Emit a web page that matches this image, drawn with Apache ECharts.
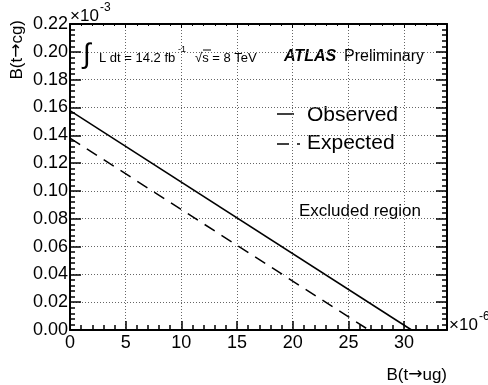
<!DOCTYPE html>
<html>
<head>
<meta charset="utf-8">
<script src="https://cdn.jsdelivr.net/npm/echarts@6/dist/echarts.min.js"></script>
<style>html,body{margin:0;padding:0;background:#fff}#c{width:488px;height:385px}</style>
</head>
<body>
<div id="c"></div>
<script>
// Data (x in units of 1e-6, y in units of 1e-3)
const observedX = [0, 30.67];
const observedY = [0.1577, 0];
const expectedX = [0, 26.84];
const expectedY = [0.138, 0];
const xTicks = [0, 5, 10, 15, 20, 25, 30];
const yTicks = [0.00, 0.02, 0.04, 0.06, 0.08, 0.10, 0.12, 0.14, 0.16, 0.18, 0.20, 0.22];
const xMax = 33.85;
const yMax = 0.22;

const FONT = "'Liberation Sans', Arial, Helvetica, sans-serif";
const chart = echarts.init(document.getElementById('c'), null, {renderer: 'canvas'});

function pairs(xs, ys) { return xs.map((x, i) => [x, ys[i]]); }

const gridLine = {show: true, lineStyle: {color: '#666', width: 1, type: [1, 2]}};
const richTitle = {
  a: {fontSize: 17, fontFamily: FONT, fill: '#000', color: '#000'},
  arr: {fontSize: 17, fontFamily: "'DejaVu Sans', sans-serif", color: '#000'}
};
const option = {
  animation: false,
  backgroundColor: '#fff',
  grid: {left: 70, right: 41, top: 24, bottom: 55, containLabel: false},
  xAxis: [{
    type: 'value', min: 0, max: xMax, interval: 5, position: 'bottom',
    axisLine: {show: true, onZero: false, lineStyle: {color: '#000', width: 2}},
    axisTick: {show: true, inside: true, length: 9, lineStyle: {color: '#000', width: 1.5}},
    minorTick: {show: true, splitNumber: 5, length: 5, lineStyle: {color: '#000', width: 1.5}},
    axisLabel: {show: true, margin: 4, fontSize: 18, color: '#000', fontFamily: FONT,
      showMaxLabel: false,
      formatter: v => xTicks.indexOf(Math.round(v * 1000) / 1000) >= 0 ? String(Math.round(v)) : ''},
    splitLine: gridLine
  }, {
    type: 'value', min: 0, max: xMax, interval: 5, position: 'top',
    axisLine: {show: true, onZero: false, lineStyle: {color: '#000', width: 2}},
    axisTick: {show: true, inside: true, length: 4, lineStyle: {color: '#000', width: 1}},
    minorTick: {show: true, splitNumber: 5, length: 2, lineStyle: {color: '#000', width: 1}},
    axisLabel: {show: false}, splitLine: {show: false}
  }],
  yAxis: [{
    type: 'value', min: 0, max: yMax, interval: 0.02, position: 'left',
    axisLine: {show: true, onZero: false, lineStyle: {color: '#000', width: 2}},
    axisTick: {show: true, inside: true, length: 11, lineStyle: {color: '#000', width: 1.5}},
    minorTick: {show: true, splitNumber: 5, length: 5, lineStyle: {color: '#000', width: 1.5}},
    axisLabel: {show: true, margin: 2, fontSize: 18, color: '#000', fontFamily: FONT,
      formatter: v => v.toFixed(2)},
    splitLine: gridLine
  }, {
    type: 'value', min: 0, max: yMax, interval: 0.02, position: 'right',
    axisLine: {show: true, onZero: false, lineStyle: {color: '#000', width: 2}},
    axisTick: {show: true, inside: true, length: 11, lineStyle: {color: '#000', width: 1.5}},
    minorTick: {show: true, splitNumber: 5, length: 5, lineStyle: {color: '#000', width: 1.5}},
    axisLabel: {show: false}, splitLine: {show: false}
  }],
  series: [{
    name: 'Observed', type: 'line', data: pairs(observedX, observedY),
    showSymbol: false, symbol: 'none', lineStyle: {color: '#000', width: 1.5, type: 'solid'}, z: 5
  }, {
    name: 'Expected', type: 'line', data: pairs(expectedX, expectedY),
    showSymbol: false, symbol: 'none', lineStyle: {color: '#000', width: 1.5, type: [12, 8]}, z: 5
  }],
  graphic: [
    {type: 'text', x: 70, y: 16, style: {text: '×10', font: '17px ' + FONT, fill: '#000', verticalAlign: 'middle', align: 'left'}},
    {type: 'text', x: 100, y: 8, style: {text: '-3', font: '12px ' + FONT, fill: '#000', verticalAlign: 'middle', align: 'left'}},
    {type: 'text', x: 449, y: 325, style: {text: '×10', font: '17px ' + FONT, fill: '#000', verticalAlign: 'middle', align: 'left'}},
    {type: 'text', x: 479, y: 317, style: {text: '-6', font: '12px ' + FONT, fill: '#000', verticalAlign: 'middle', align: 'left'}},
    {type: 'text', x: 447, y: 375, style: {text: '{a|B(t}{arr|→}{a|ug)}', rich: richTitle, fill: '#000', verticalAlign: 'middle', align: 'right'}},
    {type: 'text', x: 17, y: 20, rotation: Math.PI / 2, style: {text: '{a|B(t}{arr|→}{a|cg)}', rich: richTitle, fill: '#000', verticalAlign: 'middle', align: 'right'}},
    {type: 'text', x: 83, y: 55, style: {text: '∫', font: '28px ' + FONT, fill: '#000', verticalAlign: 'middle', align: 'left'}},
    {type: 'text', x: 99, y: 58, style: {text: 'L dt = 14.2 fb', font: '13px ' + FONT, fill: '#000', verticalAlign: 'middle', align: 'left'}},
    {type: 'text', x: 178, y: 50, style: {text: '-1', font: '9px ' + FONT, fill: '#000', verticalAlign: 'middle', align: 'left'}},
    {type: 'text', x: 195, y: 58, style: {text: '√s = 8 TeV', font: '13px ' + FONT, fill: '#000', verticalAlign: 'middle', align: 'left'}},
    {type: 'line', shape: {x1: 203, y1: 50, x2: 211, y2: 50}, style: {stroke: '#000', lineWidth: 1}},
    {type: 'text', x: 284, y: 57, style: {text: 'ATLAS', font: 'italic bold 16px ' + FONT, fill: '#000', verticalAlign: 'middle', align: 'left'}},
    {type: 'text', x: 344, y: 57, style: {text: 'Preliminary', font: '16px ' + FONT, fill: '#000', verticalAlign: 'middle', align: 'left'}},
    {type: 'line', shape: {x1: 277, y1: 114, x2: 294, y2: 114}, style: {stroke: '#000', lineWidth: 1.5}},
    {type: 'text', x: 307, y: 115, style: {text: 'Observed', font: '21px ' + FONT, fill: '#000', verticalAlign: 'middle', align: 'left'}},
    {type: 'line', shape: {x1: 277, y1: 144, x2: 289, y2: 144}, style: {stroke: '#000', lineWidth: 1.5}},
    {type: 'line', shape: {x1: 297, y1: 144, x2: 300, y2: 144}, style: {stroke: '#000', lineWidth: 1.5}},
    {type: 'text', x: 307, y: 143, style: {text: 'Expected', font: '21px ' + FONT, fill: '#000', verticalAlign: 'middle', align: 'left'}},
    {type: 'text', x: 299, y: 211, style: {text: 'Excluded region', font: '17px ' + FONT, fill: '#000', verticalAlign: 'middle', align: 'left'}}
  ]
};
chart.setOption(option);
</script>
</body>
</html>
